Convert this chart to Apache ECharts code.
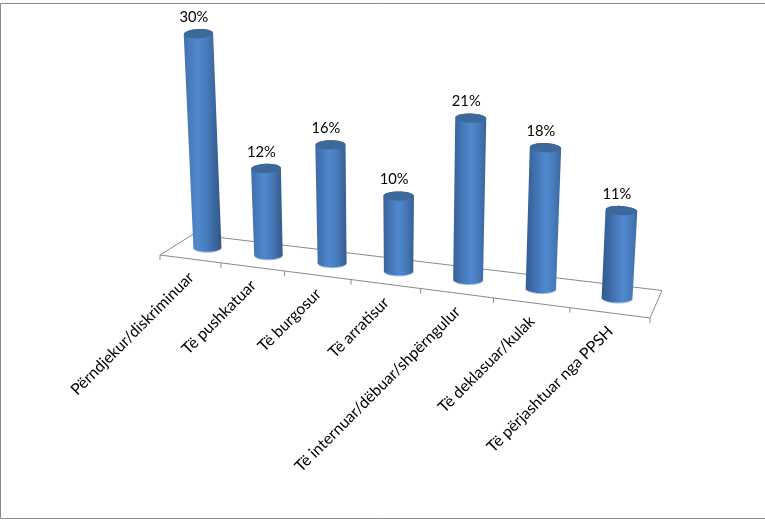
<!DOCTYPE html>
<html>
<head>
<meta charset="utf-8">
<style>html,body{margin:0;padding:0;background:#fff}#c{width:765px;height:524px}</style>
<script src="https://cdn.jsdelivr.net/npm/echarts@6/dist/echarts.min.js"></script>
</head>
<body>
<div id="c"></div>
<script>
var categories = ['Përndjekur/diskriminuar','Të pushkatuar','Të burgosur','Të arratisur','Të internuar/dëbuar/shpërngulur','Të deklasuar/kulak','Të përjashtuar nga PPSH'];
var values = [30,12,16,10,21,18,11];
var tickPositions = [0,1,2,3,4,5,6,7];

var FONT = 'Lato, Carlito, Calibri, sans-serif';
var LINE = '#8a8a8a';
// floor quad on screen: front-left, front-right, back-right, back-left
var Q = [[160,255],[650,318],[662,290.5],[193,234.3]];
var H = (function(){
  var x0=Q[0][0],y0=Q[0][1],x1=Q[1][0],y1=Q[1][1],x2=Q[2][0],y2=Q[2][1],x3=Q[3][0],y3=Q[3][1];
  var dx1=x1-x2,dx2=x3-x2,sx=x0-x1+x2-x3,dy1=y1-y2,dy2=y3-y2,sy=y0-y1+y2-y3;
  var det=dx1*dy2-dx2*dy1;
  var g=(sx*dy2-dx2*sy)/det,h=(dx1*sy-sx*dy1)/det;
  return {a:x1-x0+g*x1,b:x3-x0+h*x3,c:x0,d:y1-y0+g*y1,e:y3-y0+h*y3,f:y0,g:g,h:h};
})();
function floorPt(u,d){
  var w=H.g*u+H.h*d+1;
  return [(H.a*u+H.b*d+H.c)/w,(H.d*u+H.e*d+H.f)/w];
}
// lifts a floor point by a height taken from the flat axis, with perspective
function lift(p,u,flatH){
  var s=flatH*(1+0.151*u)+0.00007*flatH*flatH;
  return [p[0]+(p[0]-395)*0.000225*s,p[1]-s];
}
function ellipse(cx,cy,rx,ry,tilt,from,to){
  var pts=[],n=36,cs=Math.cos(tilt),sn=Math.sin(tilt);
  for(var i=0;i<=n;i++){
    var t=from+(to-from)*i/n,ex=rx*Math.cos(t),ey=ry*Math.sin(t);
    pts.push([cx+ex*cs-ey*sn,cy+ex*sn+ey*cs]);
  }
  return pts;
}

function renderFloor(params,api){
  var kids=[];
  function line(a,b){
    kids.push({type:'line',shape:{x1:a[0],y1:a[1],x2:b[0],y2:b[1]},style:{stroke:LINE,lineWidth:1,fill:null}});
  }
  var xs=tickPositions.map(function(t){return t/categories.length;});
  line(floorPt(0,0),floorPt(1,0));line(floorPt(0,1),floorPt(1,1));
  line(floorPt(0,0),floorPt(0,1));line(floorPt(1,0),floorPt(1,1));
  xs.forEach(function(u){var p=floorPt(u,0);line(p,[p[0],p[1]+5]);});
  return {type:'group',children:kids};
}

function mix(a,b,t){
  var c=[0,1,2].map(function(k){return Math.round(a[k]+(b[k]-a[k])*t);});
  return 'rgb('+c.join(',')+')';
}

function renderBar(params,api){
  var cs=params.coordSys,i=api.value(0),v=api.value(1);
  var base=api.coord([i,0]),top=api.coord([i,v]);
  var u=(base[0]-cs.x)/cs.width,flatH=base[1]-top[1];
  var b=floorPt(u,0.53),t=lift(b,u,flatH);
  var rb=13.9+1.6*u,rt=14.6+1.4*u,ryB=4.4,ryT=4.6;
  var tiltT=(-3.5+8*u)*Math.PI/180,tiltB=(-1+3*u)*Math.PI/180;
  var hi=0.36+0.26*u;
  var pts=[].concat(ellipse(t[0],t[1],rt,ryT,tiltT,Math.PI,2*Math.PI),ellipse(b[0],b[1],rb,ryB,tiltB,0,Math.PI));
  var grad=new echarts.graphic.LinearGradient(0,0,1,0,[
    {offset:0,color:mix([68,116,176],[48,86,138],u)},
    {offset:hi,color:'#5089d0'},
    {offset:Math.min(hi+0.24,0.9),color:'#477ab9'},
    {offset:1,color:mix([48,84,132],[62,108,166],u)}]);
  var f=floorPt(u,0);
  return {type:'group',children:[
    {type:'polyline',shape:{points:ellipse(b[0],b[1],rb+0.2,ryB+0.4,tiltB,0.1,Math.PI-0.1)},z2:1,
      style:{stroke:'#8db6e6',lineWidth:1,fill:null}},
    {type:'polygon',shape:{points:pts},z2:2,style:{fill:grad}},
    {type:'polygon',shape:{points:ellipse(t[0],t[1],rt-0.3,ryT,tiltT,0,2*Math.PI)},z2:3,style:{fill:'#3d6899'}},
    {type:'text',x:t[0]-4.5,y:t[1]-16.5,z2:4,style:{text:v+'%',align:'center',verticalAlign:'middle',fill:'#000',font:'14.7px '+FONT}},
    {type:'text',x:f[0]+1,y:f[1]+16,rotation:Math.PI/4,z2:4,
      style:{text:categories[i],align:'right',verticalAlign:'middle',fill:'#000',font:'15.8px '+FONT}}
  ]};
}

var chart=echarts.init(document.getElementById('c'),null,{renderer:'canvas'});
chart.setOption({
  animation:false,
  backgroundColor:'#fff',
  grid:{left:160,width:490,top:20,height:208.5,containLabel:false},
  xAxis:{type:'category',data:categories,show:false},
  yAxis:{type:'value',min:0,max:30,show:false},
  graphic:[{type:'rect',silent:true,z:-1,shape:{x:0.5,y:3.5,width:800,height:515},style:{fill:'#fff',stroke:LINE,lineWidth:1}}],
  series:[
    {type:'custom',name:'floor',silent:true,data:[[0,0]],renderItem:renderFloor,z:1,clip:false},
    {type:'custom',name:'bars',silent:true,data:values.map(function(v,i){return [i,v];}),encode:{x:0,y:1},renderItem:renderBar,z:2,clip:false}
  ]
});
</script>
</body>
</html>
